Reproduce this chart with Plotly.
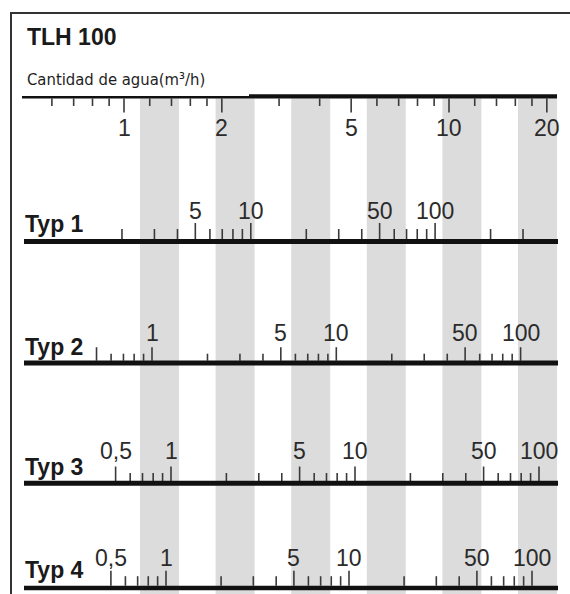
import math
import plotly.graph_objects as go

W, H = 570, 594

# ---------------- data ----------------
chart_title = "TLH 100"
axis_title = "Cantidad de agua(m³/h)"

top_ticks = [0.6, 0.7, 0.8, 0.9, 1, 1.2, 1.4, 1.6, 1.8, 2, 3, 4, 5, 6, 7, 8, 9,
             10, 12, 14, 16, 18, 20]
top_labels = [1, 2, 5, 10, 20]

typ_names = ["Typ 1", "Typ 2", "Typ 3", "Typ 4"]

typ1_ticks = [2, 3, 4, 5, 6, 7, 8, 9, 10, 20, 30, 40, 50, 60, 70, 80, 90, 100, 200, 300]
typ1_labels = [5, 10, 50, 100]
typ1_long = []

typ2_ticks = [0.5, 0.6, 0.7, 0.8, 0.9, 1, 2, 3, 4, 5, 6, 7, 8, 9, 10, 20, 30, 40,
              50, 60, 70, 80, 90, 100]
typ2_labels = [1, 5, 10, 50, 100]
typ2_long = [0.5]

typ3_ticks = [0.5, 0.6, 0.7, 0.8, 0.9, 1, 2, 3, 4, 5, 6, 7, 8, 9, 10, 20, 30, 40,
              50, 60, 70, 80, 90, 100]
typ3_labels = [0.5, 1, 5, 10, 50, 100]
typ3_long = []

typ4_ticks = [0.5, 0.6, 0.7, 0.8, 0.9, 1, 2, 3, 4, 5, 6, 7, 8, 9, 10, 20, 30, 40,
              50, 60, 70, 80, 90, 100]
typ4_labels = [0.5, 1, 5, 10, 50, 100]
typ4_long = []

# ---------------- layout constants (pixels) ----------------
X0, X1 = 22, 557            # horizontal extent of the scales
# scale calibration: pixel position of value 1, pixels per decade
cal = [(124, 325), (66.5, 184.3), (152, 184.3), (171, 184), (166, 183)]
rows_geo = [
    dict(line_y=None, tick_y=98.5, dir=+1, short=7.5, long=14, lab_y=128),
    dict(line_y=241.5, lw=5, tick_y=239, dir=-1, short=10, long=16, lab_y=210.5, name_y=223.5),
    dict(line_y=363, lw=5, tick_y=360.7, dir=-1, short=7, long=13.5, lab_y=333, name_y=346.5),
    dict(line_y=483.3, lw=5, tick_y=481, dir=-1, short=8, long=14.5, lab_y=451, name_y=466.5),
    dict(line_y=588, lw=4.5, tick_y=585.7, dir=-1, short=9.5, long=15, lab_y=558, name_y=570),
]

FONT = "Liberation Sans, Arial, sans-serif"
TXT = "#2b2b2b"
TICK = "#3a3a3a"
BAND = "#dcdcdc"


def fmt(v):
    s = ("%g" % v)
    return s.replace(".", ",")


def axis_range(c):
    p1, ppd = c
    return [(X0 - p1) / ppd, (X1 - p1) / ppd]


fig = go.Figure()

scales = [
    (top_ticks, top_labels, []),
    (typ1_ticks, typ1_labels, typ1_long),
    (typ2_ticks, typ2_labels, typ2_long),
    (typ3_ticks, typ3_labels, typ3_long),
    (typ4_ticks, typ4_labels, typ4_long),
]

shapes = []
annotations = []

# gray decorative bands
band_start, band_period, band_w, n_bands = 140, 75.6, 39, 6
for k in range(n_bands):
    bx = band_start + k * band_period
    shapes.append(dict(type="rect", xref="paper", yref="y",
                       x0=bx / W, x1=min(bx + band_w, X1) / W, y0=98.5, y1=H,
                       fillcolor=BAND, line=dict(width=0), layer="below"))

for i, (ticks, labels, longs) in enumerate(scales):
    g = rows_geo[i]
    xa = "x" if i == 0 else "x%d" % (i + 1)
    xs, ys = [], []
    for v in ticks:
        ln = g["long"] if (v in labels or v in longs) else g["short"]
        xs += [v, v, None]
        ys += [g["tick_y"], g["tick_y"] + g["dir"] * ln, None]
    fig.add_trace(go.Scatter(x=xs, y=ys, mode="lines", xaxis=xa, yaxis="y",
                             line=dict(color=TICK, width=1.6),
                             hoverinfo="skip", showlegend=False))
    for v in labels:
        annotations.append(dict(xref=xa, yref="y", x=math.log10(v), y=g["lab_y"],
                                text=fmt(v), showarrow=False, xanchor="center",
                                yanchor="middle",
                                font=dict(family=FONT, size=23, color=TXT)))
    if g["line_y"] is not None:
        shapes.append(dict(type="line", xref="paper", yref="y",
                           x0=(X0 + 2) / W, x1=(X1 + 1) / W, y0=g["line_y"], y1=g["line_y"],
                           line=dict(color="#111111", width=g["lw"])))
        annotations.append(dict(xref="paper", yref="y", x=23 / W, y=g["name_y"],
                                text="<b>%s</b>" % typ_names[i - 1], showarrow=False,
                                xanchor="left", yanchor="middle",
                                font=dict(family=FONT, size=23, color="#1a1a1a")))

# top scale line (thin left part, thicker right part)
shapes.append(dict(type="line", xref="paper", yref="y", x0=X0 / W, x1=249 / W,
                   y0=97.3, y1=97.3, line=dict(color="#111111", width=2.6)))
shapes.append(dict(type="line", xref="paper", yref="y", x0=249 / W, x1=X1 / W,
                   y0=96.4, y1=96.4, line=dict(color="#111111", width=4.2)))

# frame (left and top borders)
shapes.append(dict(type="line", xref="paper", yref="y", x0=11 / W, x1=11 / W,
                   y0=13, y1=H, line=dict(color="#333333", width=2)))
shapes.append(dict(type="line", xref="paper", yref="y", x0=10 / W, x1=1,
                   y0=13, y1=13, line=dict(color="#333333", width=2)))

# titles
annotations.append(dict(xref="paper", yref="y", x=25 / W, y=36.5, text="<b>%s</b>" % chart_title,
                        showarrow=False, xanchor="left", yanchor="middle",
                        font=dict(family=FONT, size=23, color="#1a1a1a")))
annotations.append(dict(xref="paper", yref="y", x=25 / W, y=79.5, text=axis_title,
                        showarrow=False, xanchor="left", yanchor="middle",
                        font=dict(family="DejaVu Sans Condensed, DejaVu Sans, sans-serif",
                                  size=16.5, color="#1e1e1e")))

layout_axes = {}
for i in range(5):
    key = "xaxis" if i == 0 else "xaxis%d" % (i + 1)
    ax = dict(type="log", range=axis_range(cal[i]), visible=False, fixedrange=True)
    if i == 0:
        ax["domain"] = [X0 / W, X1 / W]
        ax["anchor"] = "y"
    else:
        ax["overlaying"] = "x"
        ax["anchor"] = "y"
    layout_axes[key] = ax

fig.update_layout(
    width=W, height=H,
    margin=dict(l=0, r=0, t=0, b=0),
    paper_bgcolor="white", plot_bgcolor="white",
    yaxis=dict(range=[H, 0], domain=[0, 1], visible=False, fixedrange=True),
    shapes=shapes, annotations=annotations,
    showlegend=False,
    **layout_axes,
)

fig.write_html("out.html", config={"displayModeBar": False},
               post_script="document.body.style.margin='0';document.body.style.overflow='hidden';")
